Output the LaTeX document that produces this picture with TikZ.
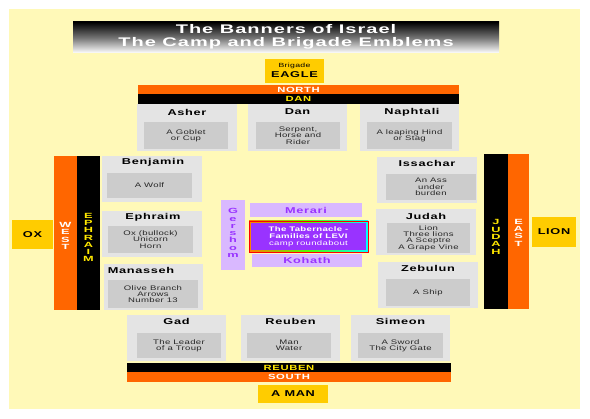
\documentclass[tikz,border=0pt]{standalone}
\usepackage{fontspec}
\setmainfont{Liberation Sans}
\newfontfamily\widefont[FakeStretch=1.5,LetterSpace=8]{Liberation Sans}
\newfontfamily\titlefont[FakeStretch=1.6,LetterSpace=8]{Liberation Sans}
\newfontfamily\smallfont[FakeStretch=1.45,LetterSpace=5]{Liberation Sans}
\newfontfamily\vfont[FakeStretch=1.7]{Liberation Sans}
\definecolor{bgyel}{HTML}{FFF9B8}
\definecolor{outgray}{HTML}{E4E4E4}
\definecolor{ingray}{HTML}{CCCCCC}
\definecolor{orng}{HTML}{FF6600}
\definecolor{gold}{HTML}{FFCC00}
\definecolor{yeltxt}{HTML}{FFE800}
\definecolor{lav}{HTML}{D9B8FF}
\definecolor{purp}{HTML}{9933FF}
\tikzset{
  sz/.style 2 args={minimum width=#1pt, minimum height=#2pt},
  rbox/.style={anchor=north west, inner sep=0pt, outer sep=0pt},
  outbox/.style={rbox, fill=outgray},
  inbox/.style={rbox, fill=ingray, font=\fontsize{6.6}{6.3}\smallfont, text=black!85, align=center},
  tname/.style={font=\fontsize{8.5}{9}\widefont\bfseries, inner sep=0pt},
  barlab/.style={font=\fontsize{7.5}{8}\widefont\bfseries, inner sep=0pt},
  vlab/.style={font=\fontsize{7.5}{7.3}\vfont\bfseries, inner sep=0pt, align=center},
  goldbox/.style={rbox, fill=gold, align=center},
}
\begin{document}
\begin{tikzpicture}[x=1pt,y=-1pt]
\useasboundingbox (0,0) rectangle (590,419);
\fill[white] (0,0) rectangle (590,419);
\fill[bgyel] (9,9) rectangle (580,409);
% title
\node[rbox, sz={426}{31}, top color=black, bottom color=white, middle color=black!55] (title) at (73,22) {};
\node[font=\fontsize{12.5}{12.5}\titlefont\bfseries, text=white, align=center, inner sep=0pt] (titletext) at ([yshift=0.5pt]title.center) {The Banners of Israel\\The Camp and Brigade Emblems};
% brigade eagle
\node[goldbox, sz={59}{24}] (eagle) at (265,59) {};
\node[font=\fontsize{6}{6}\smallfont, inner sep=0pt] (brig) at (294.5,66) {Brigade};
\node[font=\fontsize{8.5}{8}\widefont\bfseries, inner sep=0pt] (eagletext) at (294.5,75) {EAGLE};
% north bars
\node[rbox, fill=orng, sz={321}{9}] (north) at (138,85) {};
\node[barlab, text=white] at (north.center) {NORTH};
\node[rbox, fill=black, sz={321}{10}] (danbar) at (138,94) {};
\node[barlab, text=yeltxt] at (danbar.center) {DAN};
% top tribes
\node[outbox, sz={100}{47}] (asher) at (137,104) {};
\node[tname] at (187,112) {Asher};
\node[inbox, sz={84}{27}] (asherin) at (144,122) {A Goblet\\or Cup};
\node[outbox, sz={99}{47}] (dan) at (248,104) {};
\node[tname] at (297.5,112) {Dan};
\node[inbox, sz={84}{27}] (danin) at (256,122) {Serpent,\\Horse and\\Rider};
\node[outbox, sz={99}{47}] (naphtali) at (360,104) {};
\node[tname] at (412,112) {Naphtali};
\node[inbox, sz={85}{27}] (naphin) at (367,122) {A leaping Hind\\or Stag};
% west
\node[goldbox, sz={41}{29}] (ox) at (12,220) {};
\node[tname] at (ox.center) {OX};
\node[rbox, fill=orng, sz={23}{154}] (west) at (54,156) {};
\node[vlab, text=white] at (65.5,236) {W\\E\\S\\T};
\node[rbox, fill=black, sz={23}{154}] (ephbar) at (77,156) {};
\node[vlab, text=yeltxt] at (88.5,237.5) {E\\P\\H\\R\\A\\I\\M};
\node[outbox, sz={100}{46}] (benjamin) at (102,156) {};
\node[tname] at (153,162) {Benjamin};
\node[inbox, sz={85}{25}] (benin) at (107,173) {A Wolf};
\node[outbox, sz={100}{46}] (ephraim) at (102,211) {};
\node[tname] at (153,217) {Ephraim};
\node[inbox, sz={85}{27}] (ephin) at (108,226) {Ox (bullock)\\Unicorn\\Horn};
\node[outbox, sz={99}{46}] (manasseh) at (104,264) {};
\node[tname] at (141,270) {Manasseh};
\node[inbox, sz={90}{28}] (manin) at (108,280) {Olive Branch\\Arrows\\Number 13};
% east
\node[outbox, sz={100}{46}] (issachar) at (377,157) {};
\node[tname] at (427,163) {Issachar};
\node[inbox, sz={90}{26}] (issin) at (386,174) {An Ass\\under\\burden};
\node[outbox, sz={100}{46}] (judah) at (376,209) {};
\node[tname] at (426,216) {Judah};
\node[inbox, sz={83}{30}] (judin) at (387,223) {Lion\\Three lions\\A Sceptre\\A Grape Vine};
\node[outbox, sz={100}{46}] (zebulun) at (378,262) {};
\node[tname] at (428,268) {Zebulun};
\node[inbox, sz={84}{27}] (zebin) at (386,279) {A Ship};
\node[rbox, fill=black, sz={24}{155}] (judbar) at (484,154) {};
\node[vlab, text=yeltxt] at (496,237) {J\\U\\D\\A\\H};
\node[rbox, fill=orng, sz={21}{155}] (east) at (508,154) {};
\node[vlab, text=white] at (518.5,232.5) {E\\A\\S\\T};
\node[goldbox, sz={44}{30}] (lion) at (532,217) {};
\node[tname] at (lion.center) {LION};
% centre
\node[rbox, fill=lav, sz={24}{70}] (gershom) at (221,200) {};
\node[vlab, text=purp] at (233,233) {G\\e\\r\\s\\h\\o\\m};
\node[rbox, fill=lav, sz={112}{14}] (merari) at (250,203) {};
\node[tname, text=purp] at (merari.center) {Merari};
\node[rbox, draw=red, line width=0.8pt, left color=orange, right color=cyan, middle color=green!70!yellow, sz={119}{31}] (tab) at (249,221) {};
\node[rbox, fill=purp, sz={115}{27}] (tabin) at (251,223) {};
\node[font=\fontsize{6.6}{7}\smallfont\bfseries, text=white, align=center, inner sep=0pt] at (tabin.center) {The Tabernacle -\\Families of LEVI\\\mdseries camp roundabout};
\node[rbox, fill=lav, sz={110}{13}] (kohath) at (252,254) {};
\node[tname, text=purp] at (kohath.center) {Kohath};
% south tribes
\node[outbox, sz={99}{46}] (gad) at (127,315) {};
\node[tname] at (176.5,321) {Gad};
\node[inbox, sz={84}{25}] (gadin) at (137,333) {The Leader\\of a Troup};
\node[outbox, sz={99}{46}] (reuben) at (241,315) {};
\node[tname] at (290.5,321) {Reuben};
\node[inbox, sz={84}{25}] (reubin) at (247,333) {Man\\Water};
\node[outbox, sz={99}{46}] (simeon) at (351,315) {};
\node[tname] at (400.5,321) {Simeon};
\node[inbox, sz={85}{25}] (simin) at (358,333) {A Sword\\The City Gate};
\node[rbox, fill=black, sz={324}{9}] (reubar) at (127,363) {};
\node[barlab, text=yeltxt] at (reubar.center) {REUBEN};
\node[rbox, fill=orng, sz={324}{10}] (south) at (127,372) {};
\node[barlab, text=white] at (south.center) {SOUTH};
\node[goldbox, sz={70}{18}] (aman) at (258,385) {};
\node[tname] at (aman.center) {A MAN};
\end{tikzpicture}
\end{document}
